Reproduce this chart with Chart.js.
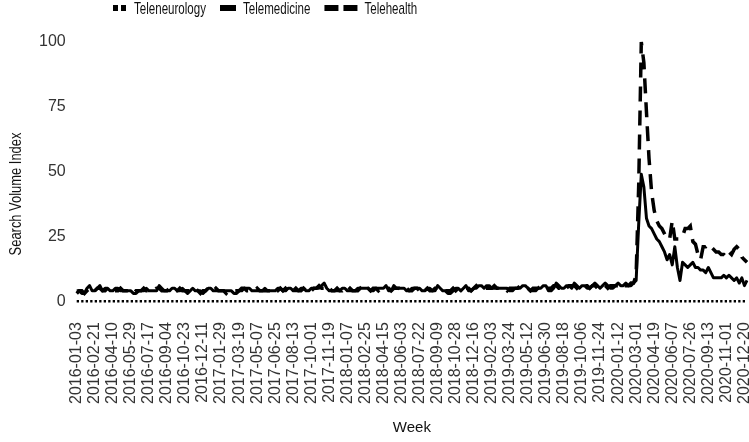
<!DOCTYPE html>
<html>
<head>
<meta charset="utf-8">
<script src="https://cdn.jsdelivr.net/npm/chart.js@4.4.0/dist/chart.umd.min.js"></script>
<style>
  html, body { margin: 0; padding: 0; background: #fff; }
  #wrap { width: 749px; height: 442px; position: relative; }
</style>
</head>
<body>
<div id="wrap"><canvas id="grafico"></canvas></div>
<script>
// semanas: 2016-01-03 ate 2020-12-27 (261 semanas)
var primeiraSemana = '2016-01-03';
var totalSemanas = 261;

var tickLabels = ['2016-01-03','2016-02-21','2016-04-10','2016-05-29','2016-07-17','2016-09-04','2016-10-23','2016-12-11',
  '2017-01-29','2017-03-19','2017-05-07','2017-06-25','2017-08-13','2017-10-01','2017-11-19','2018-01-07',
  '2018-02-25','2018-04-15','2018-06-03','2018-07-22','2018-09-09','2018-10-28','2018-12-16','2019-02-03',
  '2019-03-24','2019-05-12','2019-06-30','2019-08-18','2019-10-06','2019-11-24','2020-01-12','2020-03-01',
  '2020-04-19','2020-06-07','2020-07-26','2020-09-13','2020-11-01','2020-12-20'];

var yTicks = [0, 25, 50, 75, 100];

var teleneurologia = [
  0,0,0,0,0,0,0,0,0,0,0,0,0,0,0,0,0,0,0,0,
  0,0,0,0,0,0,0,0,0,0,0,0,0,0,0,0,0,0,0,0,
  0,0,0,0,0,0,0,0,0,0,0,0,0,0,0,0,0,0,0,0,
  0,0,0,0,0,0,0,0,0,0,0,0,0,0,0,0,0,0,0,0,
  0,0,0,0,0,0,0,0,0,0,0,0,0,0,0,0,0,0,0,0,
  0,0,0,0,0,0,0,0,0,0,0,0,0,0,0,0,0,0,0,0,
  0,0,0,0,0,0,0,0,0,0,0,0,0,0,0,0,0,0,0,0,
  0,0,0,0,0,0,0,0,0,0,0,0,0,0,0,0,0,0,0,0,
  0,0,0,0,0,0,0,0,0,0,0,0,0,0,0,0,0,0,0,0,
  0,0,0,0,0,0,0,0,0,0,0,0,0,0,0,0,0,0,0,0,
  0,0,0,0,0,0,0,0,0,0,0,0,0,0,0,0,0,0,0,0,
  0,0,0,0,0,0,0,0,0,0,0,0,0,0,0,0,0,0,0,0,
  0,0,0,0,0,0,0,0,0,0,0,0,0,0,0,0,0,0,0,0,
  0
];

var telemedicina = [
  4,4,3,3,5,6,4,4,5,6,
  4,5,5,4,4,5,5,4,4,4,
  4,4,3,3,4,4,4,5,4,4,
  4,4,6,5,4,4,4,5,5,4,
  4,5,4,3,4,5,4,4,4,3,
  4,5,5,4,4,4,4,4,4,4,
  4,3,3,4,4,5,5,5,4,4,
  4,4,4,5,4,4,4,4,5,5,
  4,4,5,5,4,4,4,5,5,4,
  4,5,5,5,5,6,7,5,4,4,
  4,4,4,5,5,4,4,4,4,5,
  5,5,5,5,4,4,5,5,5,5,
  6,4,4,6,5,5,5,5,4,4,
  5,5,5,5,4,4,5,5,4,4,
  6,5,4,4,3,3,4,5,5,4,
  5,6,4,4,5,5,6,6,5,6,
  6,5,5,5,5,5,5,5,4,4,
  5,5,5,6,6,5,4,4,4,5,
  5,6,6,4,4,5,7,6,5,5,
  6,6,5,7,6,5,6,6,5,5,
  6,7,6,5,6,7,6,5,5,6,
  7,6,6,7,6,6,7,8,30,49,
  44,32,29,28,26,24,23,21,19,
  16,18,14,21,13,8,15,14,13,14,
  15,13,13,12,12,11,13,11,9,9,
  9,9,10,9,10,9,8,9,7,9,6,8
];

var telessaude = [
  3,4,4,3,4,5,5,4,5,5,
  4,4,5,5,4,4,4,5,4,4,
  4,3,3,4,4,4,5,4,4,4,
  4,5,5,4,4,4,5,5,4,4,
  5,4,4,4,4,4,5,4,3,4,
  4,5,4,4,5,4,4,4,3,4,
  4,4,4,4,5,5,4,4,4,4,
  5,4,4,4,4,4,5,4,4,5,
  4,5,4,5,4,5,4,4,5,4,
  5,4,5,5,6,5,5,4,5,4,
  4,5,4,4,5,4,5,4,4,4,
  5,4,5,5,4,5,5,4,5,5,
  5,5,4,5,5,5,4,5,5,4,
  4,5,5,4,5,4,5,4,4,5,
  5,5,4,4,4,4,5,4,5,5,
  5,5,5,4,5,6,5,5,5,5,
  5,5,6,5,5,5,5,4,5,5,
  5,5,6,5,5,5,4,5,5,5,
  6,5,5,5,5,6,6,5,5,6,
  5,6,6,6,5,6,5,6,6,5,
  6,6,5,6,6,6,5,6,6,6,
  6,7,6,6,6,7,7,10,45,100,
  92,73,55,42,35,31,29,28,26,24,
  24,31,24,24,24,25,28,28,29,23,
  22,18,16,21,21,22,21,20,19,19,
  18,18,17,19,18,20,21,20,17,16,15
];

// monta as datas das semanas
var semanas = [];
var d0 = new Date(primeiraSemana + 'T00:00:00Z');
for (var i = 0; i < totalSemanas; i++) {
  var d = new Date(d0.getTime() + i * 7 * 86400000);
  semanas.push(d.toISOString().slice(0, 10));
}

var legendaDash = [[5, 3], [], [14, 5]];
var legendaLarg = [14, 16, 33];

// legenda e titulo do eixo y desenhados a mao (fonte estreita)
const textosExtras = {
  id: 'textosExtras',
  afterDraw(chart) {
    const ctx = chart.ctx;
    let x = 113;
    const yc = 8;
    const aperto = 0.68;
    chart.data.datasets.forEach(function (ds, i) {
      ctx.save();
      ctx.strokeStyle = '#000';
      ctx.lineWidth = 6;
      ctx.lineCap = 'butt';
      ctx.setLineDash(legendaDash[i]);
      ctx.beginPath();
      ctx.moveTo(x, yc);
      ctx.lineTo(x + legendaLarg[i], yc);
      ctx.stroke();
      ctx.restore();
      x += legendaLarg[i] + 7;
      ctx.save();
      ctx.font = '17px "Liberation Sans", sans-serif';
      const w = ctx.measureText(ds.label).width * aperto;
      ctx.translate(x, yc + 1);
      ctx.scale(aperto, 1);
      ctx.fillStyle = '#111';
      ctx.textBaseline = 'middle';
      ctx.fillText(ds.label, 0, 0);
      ctx.restore();
      x += w + 14;
    });

    ctx.save();
    ctx.translate(16, 194);
    ctx.rotate(-Math.PI / 2);
    ctx.scale(0.76, 1);
    ctx.font = '17px "Liberation Sans", sans-serif';
    ctx.fillStyle = '#111';
    ctx.textAlign = 'center';
    ctx.textBaseline = 'middle';
    ctx.fillText('Search Volume Index', 0, 0);
    ctx.restore();
  }
};

const ctx = document.getElementById('grafico');
const grafico = new Chart(ctx, {
  type: 'line',
  data: {
    labels: semanas,
    datasets: [{
      label: 'Teleneurology',
      data: teleneurologia,
      borderColor: '#000',
      borderWidth: 2.5,
      borderDash: [2.3, 2.2],
      pointRadius: 0,
      tension: 0
    },
    {
      label: 'Telemedicine',
      data: telemedicina,
      borderColor: '#000',
      borderWidth: 3,
      borderJoinStyle: 'round',
      pointRadius: 0,
      tension: 0
    },
    {
      label: 'Telehealth',
      data: telessaude,
      borderColor: '#000',
      borderWidth: 3.5,
      borderDash: [15, 9],
      pointRadius: 0,
      tension: 0
    }]
  },
  options: {
    responsive: true,
    maintainAspectRatio: false,
    animation: false,
    devicePixelRatio: 1,
    layout: {
      padding: { top: 29, left: 28, right: 2, bottom: 0 }
    },
    plugins: {
      legend: { display: false },
      tooltip: { enabled: false }
    },
    scales: {
      x: {
        afterFit: function (scale) {
          // sem folga extra nas pontas por causa dos rotulos girados
          scale.paddingLeft = 0;
          scale.paddingRight = 0;
        },
        grid: { display: false, drawTicks: false },
        border: { display: false },
        ticks: {
          autoSkip: false,
          maxRotation: 90,
          minRotation: 90,
          padding: 8,
          color: '#333',
          font: { family: 'Liberation Sans', size: 16 },
          callback: function (v, i) {
            return tickLabels.indexOf(semanas[i]) >= 0 ? semanas[i] : null;
          }
        },
        title: {
          display: true,
          text: 'Week',
          color: '#111',
          font: { family: 'Liberation Sans', size: 15 },
          padding: { top: 7, bottom: 5 }
        }
      },
      y: {
        min: -5,
        max: 105,
        afterBuildTicks: function (axis) {
          axis.ticks = yTicks.map(function (v) { return { value: v }; });
        },
        grid: { display: false, drawTicks: false },
        border: { display: false },
        ticks: {
          padding: 11,
          color: '#333',
          font: { family: 'Liberation Sans', size: 16 }
        }
      }
    }
  },
  plugins: [textosExtras]
});
</script>
</body>
</html>
